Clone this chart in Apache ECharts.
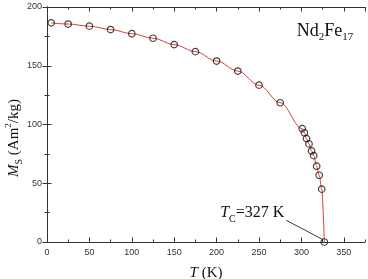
<!DOCTYPE html>
<html>
<head>
<meta charset="utf-8">
<script src="https://cdn.jsdelivr.net/npm/echarts@6/dist/echarts.min.js"></script>
<style>
  html, body { margin: 0; padding: 0; background: #fff; }
  #chart { width: 368px; height: 279px; }
</style>
</head>
<body>
<div id="chart"></div>
<script>
// temperature (K) and saturation magnetization (Am^2/kg)
const temps = [5, 25, 50, 75, 100, 125, 150, 175, 200, 225, 250, 275,
  301, 303.5, 306, 309, 312, 314.5, 318, 321, 324, 327];
const ms = [186.5, 185.5, 183.7, 180.8, 177.3, 173.4, 168, 162, 154, 145.5, 133.5, 118.5,
  96.5, 93, 88, 83.5, 77.5, 73.5, 64.5, 56.8, 45, 0];
const tc = 327;
const arrowFrom = [282, 18.5];
const arrowTo = [325.5, 2];
const tcLabelAt = [242, 24.5];

const serif = '"Liberation Serif", "DejaVu Serif", serif';
const sans = '"Liberation Sans", Arial, sans-serif';
const axisColor = '#333';

const points = temps.map((t, i) => [t, ms[i]]);

const chart = echarts.init(document.getElementById('chart'), null, { renderer: 'canvas' });

const baseX = {
  type: 'value', min: 0, max: 375,
  axisLine: { lineStyle: { color: axisColor, width: 1 } },
  splitLine: { show: false },
};

const option = {
  animation: false,
  grid: { left: 47, right: 3, top: 7, bottom: 37, outerBoundsMode: 'none' },
  xAxis: [
    {
      ...baseX, position: 'bottom', interval: 50,
      axisTick: { inside: true, length: 4.5, lineStyle: { color: axisColor } },
      axisLabel: { color: '#333', fontSize: 9, fontFamily: sans, margin: 6, showMaxLabel: false },
      name: '{i|T} (K)', nameLocation: 'middle', nameGap: 23,
      nameTextStyle: {
        fontFamily: serif, fontSize: 15, color: '#111', lineHeight: 16,
        rich: { i: { fontFamily: serif, fontSize: 15, fontStyle: 'italic', color: '#111', lineHeight: 16 } },
      },
    },
    {
      ...baseX, position: 'bottom', interval: 25,
      axisLine: { show: false },
      axisTick: { inside: true, length: 2.5, lineStyle: { color: axisColor } },
      axisLabel: { show: false },
    },
    {
      ...baseX, position: 'top', interval: 50,
      axisTick: { inside: true, length: 4.5, lineStyle: { color: axisColor } },
      axisLabel: { show: false },
    },
    {
      ...baseX, position: 'top', interval: 25,
      axisLine: { show: false },
      axisTick: { inside: true, length: 2.5, lineStyle: { color: axisColor } },
      axisLabel: { show: false },
    },
  ],
  yAxis: [
    {
      type: 'value', min: 0, max: 200, interval: 50, position: 'left',
      axisLine: { show: true, lineStyle: { color: axisColor, width: 1 } },
      axisTick: { show: true, inside: true, length: 4.5, lineStyle: { color: axisColor } },
      minorTick: { show: true, splitNumber: 2, length: 2.5, lineStyle: { color: axisColor } },
      axisLabel: { color: '#333', fontSize: 9, fontFamily: sans, margin: 5 },
      splitLine: { show: false },
    },
    {
      type: 'value', min: 0, max: 200, interval: 50, position: 'right',
      axisLine: { show: true, lineStyle: { color: axisColor, width: 1 } },
      axisTick: { show: true, inside: true, length: 4.5, lineStyle: { color: axisColor } },
      minorTick: { show: true, splitNumber: 2, length: 2.5, lineStyle: { color: axisColor } },
      axisLabel: { show: false },
      splitLine: { show: false },
    },
  ],
  series: [
    {
      type: 'line',
      data: points,
      smooth: 0.35,
      smoothMonotone: 'x',
      showSymbol: false,
      lineStyle: { color: '#e53935', width: 1 },
      z: 2,
      markLine: {
        silent: true,
        symbol: ['none', 'arrow'],
        symbolSize: [0, 6],
        label: { show: false },
        lineStyle: { color: '#222', width: 0.9, type: 'solid' },
        data: [[{ coord: arrowFrom }, { coord: arrowTo }]],
      },
      markPoint: {
        silent: true,
        symbol: 'circle',
        symbolSize: 0,
        data: [{ coord: tcLabelAt }],
        label: {
          show: true,
          position: 'inside',
          formatter: '{i|T}{sub|C}{n|=' + tc + ' K}',
          rich: {
            i: { fontFamily: serif, fontSize: 16, fontStyle: 'italic', color: '#111', lineHeight: 22 },
            n: { fontFamily: serif, fontSize: 16, color: '#111', lineHeight: 22 },
            sub: { fontFamily: serif, fontSize: 10, color: '#111', lineHeight: 9, verticalAlign: 'bottom' },
          },
        },
      },
    },
    {
      type: 'scatter',
      data: points,
      symbol: 'circle',
      symbolSize: 6.5,
      itemStyle: { color: 'rgba(0,0,0,0)', borderColor: '#111', borderWidth: 1.2 },
      z: 3,
    },
  ],
  graphic: [
    {
      type: 'text',
      x: 325, y: 31,
      style: {
        text: '{n|Nd}{sub|2}{n|Fe}{sub|17}',
        align: 'center', verticalAlign: 'middle',
        rich: {
          n: { fontFamily: serif, fontSize: 18, fill: '#111', lineHeight: 24 },
          sub: { fontFamily: serif, fontSize: 11, fill: '#111', lineHeight: 10, verticalAlign: 'bottom' },
        },
      },
    },
    {
      type: 'text',
      x: 14, y: 138,
      rotation: Math.PI / 2,
      style: {
        text: '{i|M}{sub|S}{n| (Am}{sup|2}{n|/kg)}',
        align: 'center', verticalAlign: 'middle',
        rich: {
          i: { fontFamily: serif, fontSize: 15, fontStyle: 'italic', fill: '#111', lineHeight: 20 },
          n: { fontFamily: serif, fontSize: 15, fill: '#111', lineHeight: 20 },
          sub: { fontFamily: serif, fontSize: 10, fill: '#111', lineHeight: 8, verticalAlign: 'bottom' },
          sup: { fontFamily: serif, fontSize: 9, fill: '#111', lineHeight: 8, verticalAlign: 'top' },
        },
      },
    },
  ],
};

chart.setOption(option);
</script>
</body>
</html>
